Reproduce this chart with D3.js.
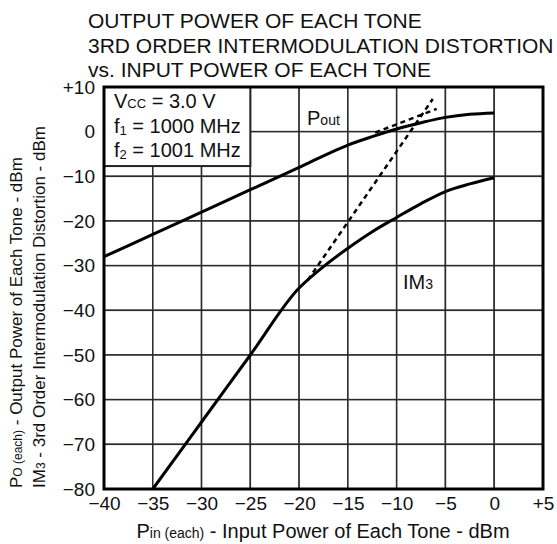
<!DOCTYPE html>
<html>
<head>
<meta charset="utf-8">
<script src="https://cdn.jsdelivr.net/npm/d3@7"></script>
<style>
  html, body { margin: 0; padding: 0; background: #fff; }
  svg { display: block; font-family: "Liberation Sans", Arial, Helvetica, sans-serif; }
</style>
</head>
<body>
<svg id="chart" width="557" height="544"></svg>
<script>
// ---- data ----
const titleLines = ["OUTPUT POWER OF EACH TONE", "3RD ORDER INTERMODULATION DISTORTION", "vs. INPUT POWER OF EACH TONE"];
const xTicks = [-40, -35, -30, -25, -20, -15, -10, -5, 0, 5];
const xTickLabels = ["\u221240", "\u221235", "\u221230", "\u221225", "\u221220", "\u221215", "\u221210", "\u22125", "0", "+5"];
const yTicks = [10, 0, -10, -20, -30, -40, -50, -60, -70, -80];
const yTickLabels = ["+10", "0", "\u221210", "\u221220", "\u221230", "\u221240", "\u221250", "\u221260", "\u221270", "\u221280"];

const poutPin = [-40, -35, -30, -25, -20, -17.5, -15, -12.5, -10, -7.5, -5, -2.5, 0];
const poutValues = [-28, -23, -18, -13, -8, -5.4, -3.0, -1.1, 0.6, 2.0, 3.2, 3.9, 4.2];

const im3Pin = [-35, -30, -25, -20, -18.5, -17.5, -15, -12.5, -10, -7.5, -5, -2.5, 0];
const im3Values = [-80, -65, -50, -35, -32, -30.2, -26.1, -22.4, -19.2, -16.1, -13.4, -11.7, -10.3];

const poutExtPin = [-12.2, -5.9];
const poutExtValues = [-0.2, 5.1];
const im3ExtPin = [-19.1, -6.3];
const im3ExtValues = [-33.2, 7.3];

const legendLines = [
  { main: "V", sub: "CC", rest: " = 3.0 V", subShift: 0 },
  { main: "f", sub: "1", rest: " = 1000 MHz", subShift: 2 },
  { main: "f", sub: "2", rest: " = 1001 MHz", subShift: 2 }
];
const legendBottomValue = -7.7;

// ---- layout ----
const svg = d3.select("#chart");
const xs = d3.scaleLinear().domain([-40, 5]).range([104, 543]);
const ys = d3.scaleLinear().domain([-80, 10]).range([489, 87]);

// title
svg.append("g").selectAll("text").data(titleLines).join("text")
  .attr("x", 88).attr("y", (d, i) => 28 + i * 24.5)
  .attr("font-size", 21).attr("fill", "#111").text(d => d);

// grid drawn as cells (each cell a white rect with a dark outline)
const cells = d3.cross(d3.pairs(xTicks), d3.pairs(yTicks));
svg.append("g").selectAll("rect").data(cells).join("rect")
  .attr("x", d => xs(d[0][0]))
  .attr("y", d => ys(d[1][0]))
  .attr("width", d => xs(d[0][1]) - xs(d[0][0]))
  .attr("height", d => ys(d[1][1]) - ys(d[1][0]))
  .attr("fill", "#fff").attr("stroke", "#2a2a2a").attr("stroke-width", 1.5);

// curves
const smooth = d3.line().x(d => xs(d[0])).y(d => ys(d[1])).curve(d3.curveMonotoneX);
const straight = d3.line().x(d => xs(d[0])).y(d => ys(d[1]));

svg.append("path").datum(d3.zip(poutPin, poutValues))
  .attr("d", smooth).attr("fill", "none").attr("stroke", "#000").attr("stroke-width", 3);
svg.append("path").datum(d3.zip(im3Pin, im3Values))
  .attr("d", smooth).attr("fill", "none").attr("stroke", "#000").attr("stroke-width", 3);

svg.append("path").datum(d3.zip(poutExtPin, poutExtValues))
  .attr("d", straight).attr("fill", "none").attr("stroke", "#000")
  .attr("stroke-width", 2.5).attr("stroke-dasharray", "5,4");
svg.append("path").datum(d3.zip(im3ExtPin, im3ExtValues))
  .attr("d", straight).attr("fill", "none").attr("stroke", "#000")
  .attr("stroke-width", 2.5).attr("stroke-dasharray", "5,4");

// legend box (white, covers grid)
svg.append("rect")
  .attr("x", xs(-40)).attr("y", ys(10))
  .attr("width", xs(-25) - xs(-40)).attr("height", ys(legendBottomValue) - ys(10))
  .attr("fill", "#fff").attr("stroke", "#222").attr("stroke-width", 2);

const lg = svg.append("g");
legendLines.forEach((l, i) => {
  const t = lg.append("text").attr("x", 114).attr("y", 108 + i * 24.5)
    .attr("font-size", 20).attr("fill", "#111");
  t.append("tspan").text(l.main);
  t.append("tspan").attr("font-size", 13).attr("dy", l.subShift).text(l.sub);
  t.append("tspan").attr("dy", -l.subShift).text(l.rest);
});

// curve labels
const pl = svg.append("text").attr("x", 307).attr("y", 125).attr("font-size", 20).attr("fill", "#111");
pl.append("tspan").text("P");
pl.append("tspan").attr("font-size", 14).text("out");
const il = svg.append("text").attr("x", 403).attr("y", 289).attr("font-size", 20).attr("fill", "#111");
il.append("tspan").text("IM");
il.append("tspan").attr("font-size", 14).text("3");

// plot border
svg.append("rect")
  .attr("x", xs(-40)).attr("y", ys(10))
  .attr("width", xs(5) - xs(-40)).attr("height", ys(-80) - ys(10))
  .attr("fill", "none").attr("stroke", "#000").attr("stroke-width", 3);

// axes (tick labels via d3 axes)
const xAxis = svg.append("g").attr("transform", `translate(0,${ys(-80)})`)
  .call(d3.axisBottom(xs).tickValues(xTicks).tickSize(0).tickPadding(8)
    .tickFormat((d, i) => xTickLabels[i]));
xAxis.select(".domain").remove();
xAxis.selectAll("text").attr("font-size", 19).attr("fill", "#111")
  .attr("font-family", "Liberation Sans, Arial, sans-serif").attr("dy", "0.71em");

const yAxis = svg.append("g").attr("transform", `translate(${xs(-40)},0)`)
  .call(d3.axisLeft(ys).tickValues(yTicks).tickSize(0).tickPadding(9)
    .tickFormat((d, i) => yTickLabels[i]));
yAxis.select(".domain").remove();
yAxis.selectAll("text").attr("font-size", 19).attr("fill", "#111")
  .attr("font-family", "Liberation Sans, Arial, sans-serif");

// x axis title
const xt = svg.append("text").attr("x", 323).attr("y", 538).attr("text-anchor", "middle")
  .attr("font-size", 20).attr("fill", "#111");
xt.append("tspan").text("P");
xt.append("tspan").attr("font-size", 14).text("in (each)");
xt.append("tspan").text(" - Input Power of Each Tone - dBm");

// y axis titles
const yt1 = svg.append("text").attr("transform", "translate(22,488) rotate(-90)")
  .attr("font-size", 17).attr("fill", "#111");
yt1.append("tspan").text("P");
yt1.append("tspan").attr("font-size", 12).text("O (each)");
yt1.append("tspan").text(" - Output Power of Each Tone - dBm");

const yt2 = svg.append("text").attr("transform", "translate(45,488) rotate(-90)")
  .attr("font-size", 17).attr("fill", "#111");
yt2.append("tspan").text("IM");
yt2.append("tspan").attr("font-size", 12).text("3");
yt2.append("tspan").text(" - 3rd Order Intermodulation Distortion - dBm");
</script>
</body>
</html>
